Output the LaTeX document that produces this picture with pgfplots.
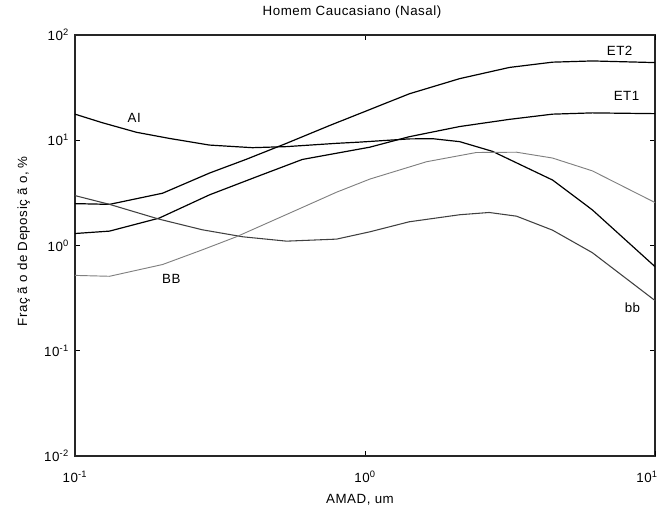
\documentclass[border=0pt]{standalone}
\usepackage{fontspec}
\setmainfont{Liberation Sans}[LetterSpace=4]
\usepackage{pgfplots}
\pgfplotsset{compat=1.18}
\begin{document}
\begin{tikzpicture}
\begin{axis}[
  at={(0,0)}, anchor=south west,
  scale only axis, width=435pt, height=315.75pt,
  xmode=log, ymode=log,
  xmin=0.1, xmax=10, ymin=0.01, ymax=100,
  xtick={0.1,1},
  xticklabels={10\textsuperscript{-1},10\textsuperscript{0}},
  extra x ticks={10},
  extra x tick labels={10\textsuperscript{1}},
  extra x tick style={xticklabel style={xshift=-6pt}},
  ytick={0.01,0.1,1,10,100},
  yticklabels={10\textsuperscript{-2},10\textsuperscript{-1},10\textsuperscript{0},10\textsuperscript{1},10\textsuperscript{2}},
  xminorticks=false, yminorticks=false,
  tick align=inside, major tick length=4pt,
  axis line style={line width=0.8pt, black!85},
  every tick/.style={black, line width=0.6pt},
  ticklabel style={font=\fontsize{10}{12}\selectfont},
  xticklabel style={yshift=-8pt},
  yticklabel style={xshift=-1pt},
  clip=true,
]
\addplot[black, line width=0.9pt] coordinates {
(0.100,17.7) (0.124,14.7) (0.163,11.9) (0.212,10.4) (0.291,9.0) (0.409,8.5)
(0.536,8.7) (0.798,9.35) (0.957,9.6) (1.42,10.3) (1.71,10.35) (2.12,9.7)
(2.75,7.85) (4.44,4.18) (6.08,2.18) (10.0,0.63)};
\addplot[black, line width=0.9pt] coordinates {
(0.100,2.50) (0.1315,2.46) (0.2005,3.14) (0.291,4.88) (0.390,6.6) (0.536,9.35)
(0.755,13.8) (1.04,19.6) (1.42,27.6) (2.12,38.5) (3.15,49.2) (4.43,55.2)
(6.08,56.7) (10.0,54.7)};
\addplot[black, line width=0.9pt] coordinates {
(0.100,1.30) (0.1315,1.37) (0.195,1.82) (0.291,3.03) (0.423,4.5) (0.608,6.57)
(1.04,8.6) (1.42,10.8) (2.12,13.5) (3.15,15.8) (4.43,17.7) (6.08,18.2) (10.0,17.9)};
\addplot[black!75, line width=0.8pt] coordinates {
(0.100,2.98) (0.1315,2.46) (0.195,1.78) (0.275,1.41) (0.379,1.21) (0.536,1.10)
(0.798,1.15) (1.04,1.35) (1.42,1.68) (2.12,1.96) (2.68,2.06) (3.33,1.90)
(4.43,1.40) (6.08,0.855) (10.0,0.30)};
\addplot[black!50, line width=0.7pt] coordinates {
(0.100,0.52) (0.1315,0.51) (0.2005,0.66) (0.275,0.91) (0.360,1.21) (0.536,1.97)
(0.798,3.21) (1.04,4.28) (1.63,6.25) (2.42,7.65) (3.33,7.70) (4.43,6.78)
(6.08,5.12) (10.0,2.56)};
\node[font=\fontsize{10}{12}\selectfont] at (axis cs:0.160,16.3) {AI};
\node[font=\fontsize{10}{12}\selectfont] at (axis cs:0.215,0.486) {BB};
\node[font=\fontsize{10}{12}\selectfont] at (axis cs:7.55,71.1) {ET2};
\node[font=\fontsize{10}{12}\selectfont] at (axis cs:7.98,26.5) {ET1};
\node[font=\fontsize{10}{12}\selectfont] at (axis cs:8.36,0.258) {bb};
\end{axis}
\node[font=\fontsize{10}{12}\selectfont] at (207.75pt,333pt) {Homem Caucasiano (Nasal)};
\node[font=\fontsize{10}{12}\selectfont] at (213.75pt,-32.5pt) {AMAD, um};
\node[font=\fontsize{10}{12}\selectfont, rotate=90] at (-38.5pt,161pt) {Fraç ã o de Deposiç ã o, \%};
\pgfresetboundingbox
\path[use as bounding box] (-56.25pt,-39pt) rectangle (438pt,342pt);
\end{tikzpicture}
\end{document}
